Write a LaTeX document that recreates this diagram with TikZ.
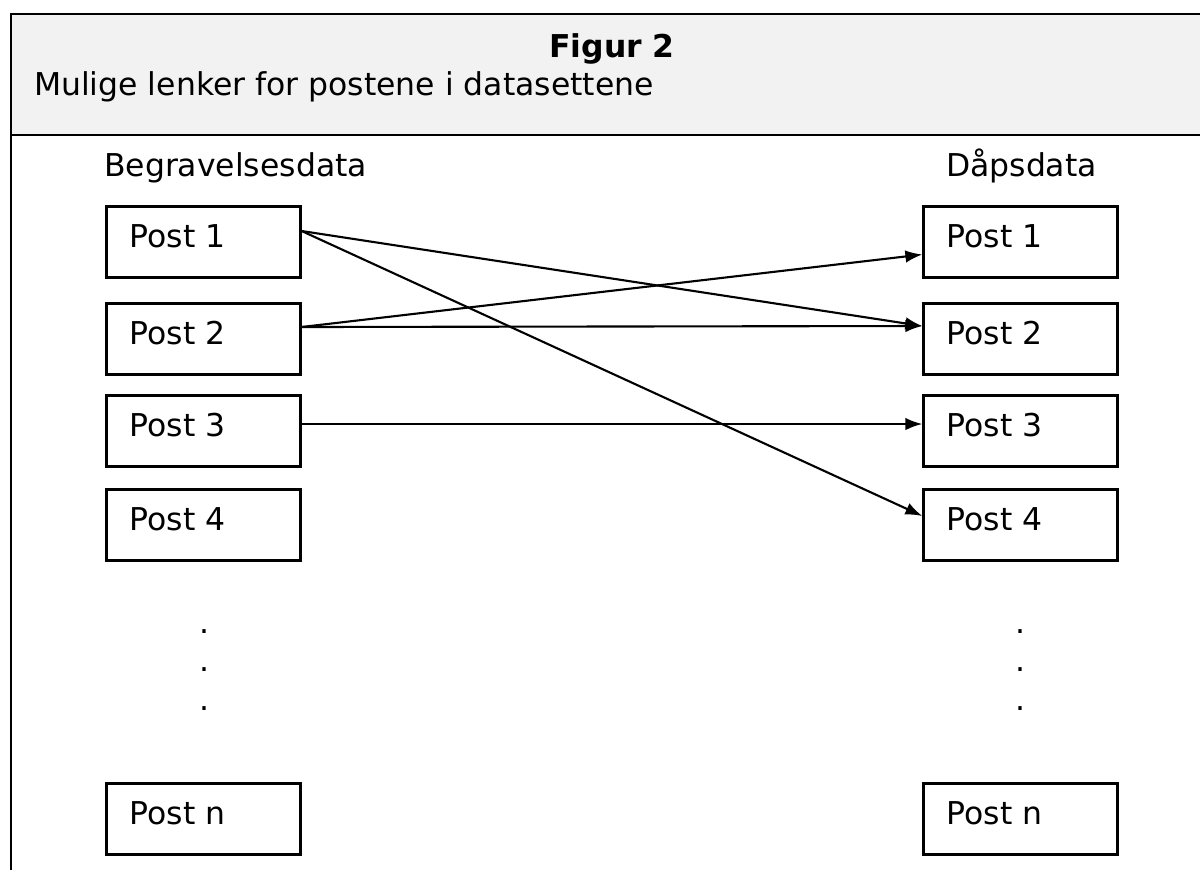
\documentclass[tikz,border=0pt]{standalone}
\usepackage{fontspec}
\setmainfont{DejaVu Sans}
\usepackage{xcolor}
\usepackage{tikz}
\usetikzlibrary{arrows.meta, positioning, calc}
\definecolor{headgray}{RGB}{242, 242, 242}

\begin{document}
\begin{tikzpicture}[x=0.02cm, y=-0.02cm, line width=1.3pt,
    every node/.style={font=\fontsize{17.9}{21}\selectfont},
    postbox/.style={draw, line width=1.3pt, rectangle, inner xsep=0.46cm, inner ysep=0pt,
        text width=2.96cm, align=left, text height=0.82cm, text depth=0.6cm},
    link/.style={-{Latex[length=0.34cm, width=0.25cm]}, line width=1.2pt},
    dotmark/.style={anchor=base, inner sep=0pt}]
    \useasboundingbox (0,0) rectangle (1200,870);

    % header frame
    \fill[headgray] (11,14) rectangle (1200,135);
    \draw (1200,14) -- (11,14) -- (11,870);
    \draw (11,135) -- (1200,135);
    \node[anchor=base, font=\fontsize{17.9}{21}\selectfont\bfseries] (title) at (612,57) {Figur 2};
    \node[anchor=base west, inner sep=0pt] (subtitle) at (33,95) {Mulige lenker for postene i datasettene};

    % column headings
    \node[anchor=base west, inner sep=0pt] (begr) at (103,176) {Begravelsesdata};
    \node[anchor=base west, inner sep=0pt] (daap) at (945,176) {Dåpsdata};

    % records
    \foreach \i/\y in {1/242, 2/339, 3/431, 4/525, n/819} {
        \node[postbox] (l\i) at (203.5,\y) {Post \i};
        \node[postbox] (r\i) at (1020.5,\y) {Post \i};
    }

    % dots
    \foreach \i/\y in {1/633, 2/671, 3/710} {
        \node[dotmark] (ld\i) at (204,\y) {.};
        \node[dotmark] (rd\i) at (1020,\y) {.};
    }

    % possible links
    \draw[link] ([yshift=0.22cm]l1.east) -- ([yshift=0.26cm]r2.west);
    \draw[link] ([yshift=0.22cm]l1.east) -- ([yshift=0.18cm]r4.west);
    \draw[link] ([yshift=0.24cm]l2.east) -- ([yshift=-0.25cm]r1.west);
    \draw[link] ([yshift=0.24cm]l2.east) -- ([yshift=0.26cm]r2.west);
    \draw[link] ([yshift=0.14cm]l3.east) -- ([yshift=0.14cm]r3.west);
\end{tikzpicture}
\end{document}
